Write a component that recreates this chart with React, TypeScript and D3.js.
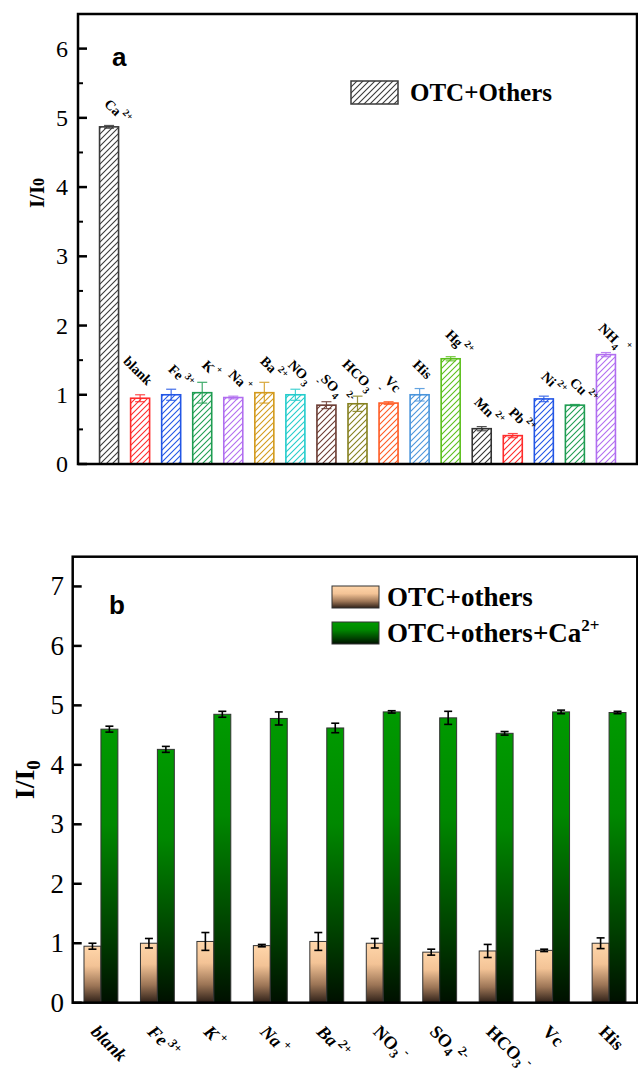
import React, { useRef, useEffect } from 'react';
import * as d3 from 'd3';

// panel a: OTC + single interferent
const IONS_A = ['Ca', 'blank', 'Fe', 'K', 'Na', 'Ba', 'NO', 'SO', 'HCO', 'Vc', 'His', 'Hg', 'Mn', 'Pb', 'Ni', 'Cu', 'NH'];
const SUB_A = ['', '', '', '', '', '', '3', '4', '3', '', '', '', '', '', '', '', '4'];
const SUP_A = ['2+', '', '3+', '+', '+', '2+', '-', '2-', '-', '', '', '2+', '2+', '2+', '2+', '2+', '+'];
const VALUES_A = [4.87, 0.95, 1.0, 1.03, 0.96, 1.03, 1.0, 0.85, 0.87, 0.88, 1.0, 1.52, 0.51, 0.41, 0.94, 0.85, 1.58];
const ERRORS_A = [0.02, 0.05, 0.08, 0.15, 0.02, 0.15, 0.08, 0.05, 0.11, 0.02, 0.09, 0.03, 0.03, 0.03, 0.04, 0.01, 0.03];
const COLORS_A = ['#3a3a3a', '#ff2b2b', '#2256e6', '#1f9d52', '#b16ef0', '#d39a1c', '#24cccc', '#6b3b32', '#85801e', '#ff5a22', '#4a95dc', '#5cbf1c', '#333333', '#ff2b2b', '#2256e6', '#1f9d52', '#b16ef0'];
const TICKS_A = [0, 1, 2, 3, 4, 5, 6];

// panel b: with and without Ca2+
const IONS_B = ['blank', 'Fe', 'K', 'Na', 'Ba', 'NO', 'SO', 'HCO', 'Vc', 'His'];
const SUB_B = ['', '', '', '', '', '3', '4', '3', '', ''];
const SUP_B = ['', '3+', '+', '+', '2+', '-', '2-', '-', '', ''];
const OTHERS_B = [0.95, 1.0, 1.03, 0.96, 1.03, 1.0, 0.85, 0.87, 0.88, 1.0];
const OTHERS_ERR_B = [0.05, 0.08, 0.15, 0.02, 0.15, 0.08, 0.05, 0.11, 0.02, 0.09];
const WITH_CA_B = [4.6, 4.26, 4.85, 4.78, 4.62, 4.89, 4.79, 4.53, 4.89, 4.88];
const WITH_CA_ERR_B = [0.05, 0.05, 0.05, 0.11, 0.08, 0.02, 0.11, 0.03, 0.03, 0.02];
const TICKS_B = [0, 1, 2, 3, 4, 5, 6, 7];

const SERIF = '"Liberation Serif", "Times New Roman", serif';
const SANS = '"Liberation Sans", Arial, sans-serif';

export default function App() {
  const svgRef = useRef<SVGSVGElement>(null);

  useEffect(() => {
    const svg = d3.select(svgRef.current);
    svg.selectAll('*').remove();
    const defs = svg.append('defs');

    // hatch patterns, one per colour
    const uniq = Array.from(new Set(COLORS_A));
    const patId = (c: string) => 'hatch' + c.slice(1);
    uniq.forEach(c => {
      const p = defs.append('pattern')
        .attr('id', patId(c))
        .attr('patternUnits', 'userSpaceOnUse')
        .attr('width', 6).attr('height', 6);
      p.append('path')
        .attr('d', 'M-1,1 l2,-2 M0,6 l6,-6 M5,7 l2,-2')
        .attr('stroke', c).attr('stroke-width', 1.1);
    });

    const peach = defs.append('linearGradient').attr('id', 'peach')
      .attr('x1', 0).attr('y1', 0).attr('x2', 0).attr('y2', 1);
    [[0, '#ffd6aa'], [0.35, '#f3c396'], [0.7, '#9c7556'], [1, '#2e2018']].forEach(([o, c]) =>
      peach.append('stop').attr('offset', o as number).attr('stop-color', c as string));
    const green = defs.append('linearGradient').attr('id', 'green')
      .attr('x1', 0).attr('y1', 0).attr('x2', 0).attr('y2', 1);
    [[0, '#009a00'], [0.35, '#008800'], [0.75, '#004000'], [1, '#001000']].forEach(([o, c]) =>
      green.append('stop').attr('offset', o as number).attr('stop-color', c as string));

    // ---------- panel a ----------
    const aL = 78, aR = 637, aT = 14, aB = 464;
    const xa = d3.scaleLinear().domain([0, IONS_A.length + 1]).range([aL, aR]);
    const ya = d3.scaleLinear().domain([0, 6.5]).range([aB, aT]);
    const bwA = 19;
    const ga = svg.append('g');

    ga.selectAll('rect.bar')
      .data(VALUES_A)
      .enter().append('rect')
      .attr('x', (_, i) => xa(i + 1) - bwA / 2)
      .attr('y', d => ya(d))
      .attr('width', bwA)
      .attr('height', d => aB - ya(d))
      .attr('fill', (_, i) => `url(#${patId(COLORS_A[i])})`)
      .attr('stroke', (_, i) => COLORS_A[i])
      .attr('stroke-width', 1.6);

    VALUES_A.forEach((v, i) => {
      const cx = xa(i + 1);
      const e = ERRORS_A[i];
      const col = COLORS_A[i];
      const eg = ga.append('g').attr('stroke', col).attr('stroke-width', 1.2).attr('opacity', 0.85);
      eg.append('line').attr('x1', cx).attr('x2', cx).attr('y1', ya(v - e)).attr('y2', ya(v + e));
      eg.append('line').attr('x1', cx - 5).attr('x2', cx + 5).attr('y1', ya(v + e)).attr('y2', ya(v + e));
      eg.append('line').attr('x1', cx - 5).attr('x2', cx + 5).attr('y1', ya(v - e)).attr('y2', ya(v - e));

      // rotated ion label above bar
      const lg = ga.append('g')
        .attr('transform', `translate(${cx + 1},${ya(v + e) - 3}) rotate(45)`)
        .attr('font-family', SERIF).attr('font-weight', 'bold');
      lg.append('text').attr('x', 0).attr('y', -8).attr('text-anchor', 'end')
        .attr('font-size', 14).text(IONS_A[i]);
      if (SUB_A[i] || SUP_A[i]) {
        const t = lg.append('text').attr('x', SUB_A[i] ? 1 : 2).attr('y', -8).attr('font-size', 10);
        if (SUB_A[i]) t.append('tspan').attr('dy', 4).text(SUB_A[i]);
        if (SUP_A[i]) t.append('tspan').attr('dx', SUB_A[i] ? 4 : 0).attr('dy', SUB_A[i] ? -12 : -7).text(SUP_A[i]);
      }
    });

    // axes a
    ga.append('rect').attr('x', aL).attr('y', aT).attr('width', aR - aL).attr('height', aB - aT)
      .attr('fill', 'none').attr('stroke', '#000').attr('stroke-width', 2.5);
    TICKS_A.forEach(t => {
      ga.append('line').attr('x1', aL).attr('x2', aL + 9).attr('y1', ya(t)).attr('y2', ya(t))
        .attr('stroke', '#000').attr('stroke-width', 2.5);
      ga.append('text').attr('x', 68).attr('y', ya(t) + 8).attr('text-anchor', 'end')
        .attr('font-family', SERIF).attr('font-size', 24).text(t);
      if (t < 6) {
        ga.append('line').attr('x1', aL).attr('x2', aL + 5).attr('y1', ya(t + 0.5)).attr('y2', ya(t + 0.5))
          .attr('stroke', '#000').attr('stroke-width', 2);
      }
    });
    const yla = ga.append('text').attr('transform', `translate(44,${(aT + aB) / 2 - 46}) rotate(-90)`)
      .attr('text-anchor', 'middle').attr('font-family', SERIF).attr('font-weight', 'bold').attr('font-size', 21);
    yla.append('tspan').text('I/I');
    yla.append('tspan').attr('font-size', 16).text('0');
    ga.append('text').attr('x', 112).attr('y', 66).attr('font-family', SANS).attr('font-weight', 'bold')
      .attr('font-size', 26).text('a');
    // legend a
    ga.append('rect').attr('x', 351).attr('y', 81).attr('width', 47).attr('height', 23)
      .attr('fill', `url(#${patId('#3a3a3a')})`).attr('stroke', '#3a3a3a').attr('stroke-width', 1.5);
    ga.append('text').attr('x', 410).attr('y', 101).attr('font-family', SERIF).attr('font-weight', 'bold')
      .attr('font-size', 25).text('OTC+Others');

    // ---------- panel b ----------
    const bL = 72.7, bR = 637.3, bT = 556.7, bB = 1002.7;
    const keys = IONS_B.map((d, i) => d + i);
    const xb = d3.scaleBand<string>().domain(keys).range([bL, bR])
      .paddingInner(0.4).paddingOuter(0.2);
    const xs = d3.scaleBand<string>().domain(['others', 'withCa']).range([0, xb.bandwidth()]);
    const yb = d3.scaleLinear().domain([0, 7.5]).range([bB, bT]);
    const gb = svg.append('g');

    const series = [
      { key: 'others', vals: OTHERS_B, errs: OTHERS_ERR_B, fill: 'url(#peach)' },
      { key: 'withCa', vals: WITH_CA_B, errs: WITH_CA_ERR_B, fill: 'url(#green)' },
    ];
    series.forEach(s => {
      gb.selectAll(`rect.${s.key}`)
        .data(s.vals)
        .enter().append('rect')
        .attr('x', (_, i) => (xb(keys[i]) as number) + (xs(s.key) as number))
        .attr('y', d => yb(d))
        .attr('width', xs.bandwidth())
        .attr('height', d => bB - yb(d))
        .attr('fill', s.fill)
        .attr('stroke', '#333').attr('stroke-width', 1);
      s.vals.forEach((v, i) => {
        const cx = (xb(keys[i]) as number) + (xs(s.key) as number) + xs.bandwidth() / 2;
        const e = s.errs[i];
        const eg = gb.append('g').attr('stroke', '#000').attr('stroke-width', 1.6);
        eg.append('line').attr('x1', cx).attr('x2', cx).attr('y1', yb(v - e)).attr('y2', yb(v + e));
        eg.append('line').attr('x1', cx - 4).attr('x2', cx + 4).attr('y1', yb(v + e)).attr('y2', yb(v + e));
        eg.append('line').attr('x1', cx - 4).attr('x2', cx + 4).attr('y1', yb(v - e)).attr('y2', yb(v - e));
      });
    });

    // x labels b
    IONS_B.forEach((d, i) => {
      const cx = (xb(keys[i]) as number) + xb.bandwidth() / 2;
      const t = gb.append('text')
        .attr('transform', `translate(${cx - 11},${bB + 30}) rotate(45)`)
        .attr('font-family', SERIF).attr('font-weight', 'bold').attr('font-style', i < 5 ? 'italic' : 'normal')
        .attr('font-size', 18);
      t.append('tspan').text(d);
      if (SUB_B[i]) t.append('tspan').attr('font-size', 13).attr('dy', 4).text(SUB_B[i]);
      if (SUP_B[i]) t.append('tspan').attr('font-size', 13).attr('dx', 3).attr('dy', SUB_B[i] ? -11 : -7).text(SUP_B[i]);
    });

    // axes b
    gb.append('rect').attr('x', bL).attr('y', bT).attr('width', bR - bL).attr('height', bB - bT)
      .attr('fill', 'none').attr('stroke', '#000').attr('stroke-width', 2.5);
    TICKS_B.forEach(t => {
      gb.append('line').attr('x1', bL).attr('x2', bL + 9).attr('y1', yb(t)).attr('y2', yb(t))
        .attr('stroke', '#000').attr('stroke-width', 2.5);
      gb.append('text').attr('x', 64).attr('y', yb(t) + 9).attr('text-anchor', 'end')
        .attr('font-family', SERIF).attr('font-size', 27).text(t);
    });
    const ylb = gb.append('text').attr('transform', `translate(34,${(bT + bB) / 2}) rotate(-90)`)
      .attr('text-anchor', 'middle').attr('font-family', SERIF).attr('font-weight', 'bold').attr('font-size', 28);
    ylb.append('tspan').text('I/I');
    ylb.append('tspan').attr('font-size', 19).attr('dy', 6).text('0');
    gb.append('text').attr('x', 109).attr('y', 614).attr('font-family', SANS).attr('font-weight', 'bold')
      .attr('font-size', 26).text('b');

    // legend b
    const legB = [
      { fill: 'url(#peach)', y: 586, label: 'OTC+others', sup: '' },
      { fill: 'url(#green)', y: 622, label: 'OTC+others+Ca', sup: '2+' },
    ];
    legB.forEach(l => {
      gb.append('rect').attr('x', 332).attr('y', l.y).attr('width', 47).attr('height', 22)
        .attr('fill', l.fill).attr('stroke', '#333').attr('stroke-width', 1);
      const t = gb.append('text').attr('x', 387).attr('y', l.y + 20).attr('font-family', SERIF)
        .attr('font-weight', 'bold').attr('font-size', 27);
      t.append('tspan').text(l.label);
      if (l.sup) t.append('tspan').attr('font-size', 17).attr('dy', -11).text(l.sup);
    });
  }, []);

  return (
    <svg
      ref={svgRef}
      width={638}
      height={1075}
      style={{ position: 'absolute', left: 0, top: 0, background: '#fff' }}
    />
  );
}
